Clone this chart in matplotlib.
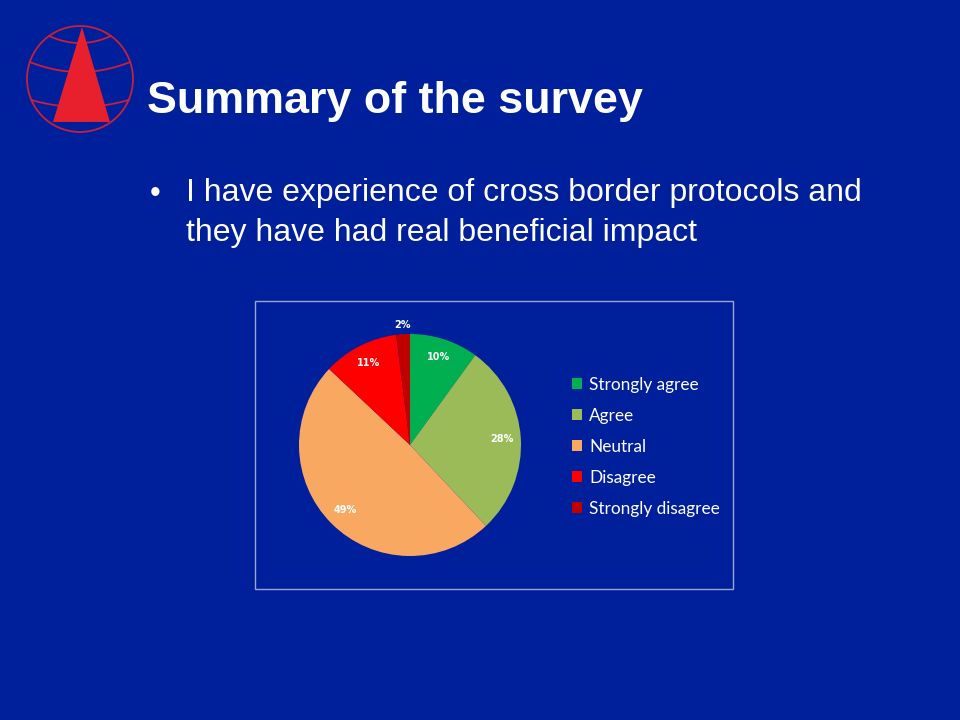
import numpy as np
import matplotlib.pyplot as plt
from matplotlib.patches import Circle, Polygon, Rectangle

# survey answers
labels = ['Strongly agree', 'Agree', 'Neutral', 'Disagree', 'Strongly disagree']
shares = [10, 28, 49, 11, 2]
colors = ['#00B050', '#9BBB59', '#F9A862', '#FF0000', '#C00000']

title = 'Summary of the survey'
bullet_lines = ['I have experience of cross border protocols and',
                'they have had real beneficial impact']

bg = '#001F9A'
logo_red = '#E8202E'

fig = plt.figure(figsize=(9.6, 7.2), dpi=100, facecolor=bg)

# slide layer in pixel coords
deco = fig.add_axes([0, 0, 1, 1])
deco.set_xlim(0, 960)
deco.set_ylim(720, 0)
deco.axis('off')

# logo: globe + triangle
deco.add_patch(Circle((80, 79), 53, fill=False, ec='#C8203A', lw=1.3))
for y0, dip in [(36, 7), (62, 10), (100, 7)]:
    xs = np.linspace(-1, 1, 50)
    half = np.sqrt(max(53**2 - (y0 - 79)**2, 0))
    deco.plot(80 + xs * half, y0 + dip * (1 - xs**2), color='#C8203A', lw=1.3)
deco.add_patch(Polygon([(82, 27), (53, 122), (110, 122)], closed=True,
                       fc=logo_red, ec='none', zorder=3))

deco.text(147, 102, title, color='white', fontsize=32.3, fontweight='bold',
          family='Liberation Sans', va='center', ha='left')
deco.text(150, 194, '\u2022', color='white', fontsize=22, family='Liberation Sans',
          va='center')
for i, line in enumerate(bullet_lines):
    deco.text(186, 193 + i * 40, line, color='white', fontsize=23,
              family='Liberation Sans', va='center')

# chart frame
deco.add_patch(Rectangle((255, 301), 478, 288, fill=False, ec='#9AA5D0', lw=1))

# pie axes: center (410,445), radius 111 px
r = 111
side = 2.5 * r
ax = fig.add_axes([(410 - side / 2) / 960, (720 - 445 - side / 2) / 720,
                   side / 960, side / 720])
wedges, texts, autotexts = ax.pie(shares, colors=colors, startangle=90,
                                  counterclock=False, autopct='%d%%',
                                  pctdistance=0.83,
                                  wedgeprops=dict(linewidth=0),
                                  textprops=dict(color='white', fontsize=7,
                                                 fontweight='bold'))
# smallest slice label sits outside
ang = np.deg2rad(90 + 3.6)
autotexts[4].set_position((1.08 * np.cos(ang), 1.08 * np.sin(ang)))
ax.set_aspect('equal')

fig.legend(wedges, labels, loc='upper left',
           bbox_to_anchor=(572 / 960, 1 - 377 / 720), frameon=False,
           borderpad=0, borderaxespad=0, handlelength=0.6, handleheight=0.6,
           handletextpad=0.4, labelspacing=0.87,
           prop=dict(family='Lato', size=12.4), labelcolor='white')

fig.savefig('out.png', dpi=100, facecolor=bg)
